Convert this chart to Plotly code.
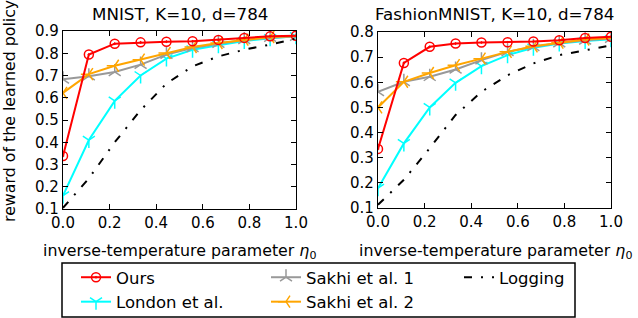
import plotly.graph_objects as go

eta = [0.0, 0.111, 0.222, 0.333, 0.444, 0.556, 0.667, 0.778, 0.889, 1.0]

mnist_ours = [0.338, 0.794, 0.843, 0.849, 0.852, 0.854, 0.860, 0.869, 0.876, 0.879]
mnist_london = [0.160, 0.410, 0.586, 0.700, 0.776, 0.816, 0.836, 0.855, 0.867, 0.876]
mnist_sakhi1 = [0.683, 0.697, 0.716, 0.749, 0.794, 0.824, 0.843, 0.860, 0.870, 0.875]
mnist_sakhi2 = [0.622, 0.706, 0.744, 0.771, 0.801, 0.828, 0.846, 0.861, 0.873, 0.878]
mnist_logging = [0.105, 0.238, 0.400, 0.544, 0.664, 0.741, 0.786, 0.816, 0.839, 0.866]

fashion_ours = [0.335, 0.677, 0.741, 0.754, 0.758, 0.759, 0.762, 0.767, 0.776, 0.781]
fashion_london = [0.179, 0.357, 0.500, 0.598, 0.664, 0.708, 0.737, 0.754, 0.764, 0.771]
fashion_sakhi1 = [0.562, 0.602, 0.622, 0.651, 0.688, 0.721, 0.741, 0.756, 0.767, 0.774]
fashion_sakhi2 = [0.500, 0.602, 0.637, 0.668, 0.694, 0.721, 0.743, 0.758, 0.770, 0.776]
fashion_logging = [0.113, 0.212, 0.338, 0.470, 0.562, 0.628, 0.675, 0.708, 0.727, 0.747]

titles = ["MNIST, K=10, d=784", "FashionMNIST, K=10, d=784"]
x_ticks = [0.0, 0.2, 0.4, 0.6, 0.8, 1.0]
y_ticks_left = [0.1, 0.2, 0.3, 0.4, 0.5, 0.6, 0.7, 0.8, 0.9]
y_ticks_right = [0.1, 0.2, 0.3, 0.4, 0.5, 0.6, 0.7, 0.8]

W, H = 638, 318
FONT = "DejaVu Sans"

styles = {
    "Ours": dict(color="#ff0000", symbol="circle-open-dot", size=9, legend="legend"),
    "London et al.": dict(color="#00ffff", symbol="y-down", size=10, legend="legend"),
    "Sakhi et al. 1": dict(color="#999999", symbol="y-up", size=10, legend="legend2"),
    "Sakhi et al. 2": dict(color="#ffa500", symbol="y-left", size=10, legend="legend2"),
}
ranks = {"Ours": 1, "London et al.": 2, "Sakhi et al. 1": 3, "Sakhi et al. 2": 4}

fig = go.Figure()

names = ["Ours", "London et al.", "Sakhi et al. 1", "Sakhi et al. 2"]
panels = [
    ("x", "y", dict(zip(names, [mnist_ours, mnist_london, mnist_sakhi1, mnist_sakhi2])), mnist_logging, True),
    ("x2", "y2", dict(zip(names, [fashion_ours, fashion_london, fashion_sakhi1, fashion_sakhi2])), fashion_logging, False),
]

for xa, ya, series, logging, show in panels:
    for name in ["London et al.", "Sakhi et al. 1", "Sakhi et al. 2", "Ours"]:
        st = styles[name]
        fig.add_trace(go.Scatter(
            x=eta, y=series[name], name=name, mode="lines+markers",
            xaxis=xa, yaxis=ya, showlegend=show, legend=st["legend"],
            legendrank=ranks[name],
            line=dict(color=st["color"], width=2),
            marker=dict(symbol=st["symbol"], size=st["size"], color=st["color"],
                        line=dict(color=st["color"], width=1.5)),
        ))
    fig.add_trace(go.Scatter(
        x=eta, y=logging, name="Logging", mode="lines", xaxis=xa, yaxis=ya,
        showlegend=show, legend="legend3", legendrank=5,
        line=dict(color="black", width=2, dash="8px,9px,2px,9px"),
    ))

def px_x(p):
    return p / W

def px_y(p):
    return 1 - p / H

axis_common = dict(
    showgrid=False, zeroline=False, showline=True, linecolor="black", linewidth=1.2,
    mirror="ticks", ticks="inside", ticklen=5, tickwidth=1, tickcolor="black",
    tickfont=dict(family=FONT, size=15, color="black"), automargin=False,
)

leg_common = dict(xanchor="left", yanchor="top", orientation="v", bgcolor="rgba(0,0,0,0)",
                  font=dict(family=FONT, size=16.5, color="black"), traceorder="normal",
                  tracegroupgap=0)

def ann(text, x, y, size, **kw):
    return dict(text=text, x=px_x(x), y=px_y(y), xref="paper", yref="paper",
                xanchor="center", yanchor="middle", showarrow=False,
                font=dict(family=FONT, size=size, color="black"), **kw)

fig.update_layout(
    width=W, height=H,
    margin=dict(l=0, r=0, t=0, b=0, autoexpand=False),
    paper_bgcolor="white", plot_bgcolor="white",
    font=dict(family=FONT, size=15, color="black"),
    xaxis=dict(domain=[px_x(63), px_x(296)], range=[0, 1], tickvals=x_ticks,
               ticktext=[f"{v:.1f}" for v in x_ticks], anchor="y", **axis_common),
    yaxis=dict(domain=[px_y(209), px_y(31)], range=[0.1, 0.9], tickvals=y_ticks_left,
               ticktext=[f"{v:.1f}" for v in y_ticks_left], anchor="x", **axis_common),
    xaxis2=dict(domain=[px_x(378), px_x(611)], range=[0, 1], tickvals=x_ticks,
                ticktext=[f"{v:.1f}" for v in x_ticks], anchor="y2", **axis_common),
    yaxis2=dict(domain=[px_y(208), px_y(32)], range=[0.1, 0.8], tickvals=y_ticks_right,
                ticktext=[f"{v:.1f}" for v in y_ticks_right], anchor="x2", **axis_common),
    legend=dict(x=px_x(76), y=px_y(260), **leg_common),
    legend2=dict(x=px_x(266), y=px_y(260), **leg_common),
    legend3=dict(x=px_x(459), y=px_y(260), **leg_common),
    shapes=[dict(type="rect", xref="paper", yref="paper",
                 x0=px_x(62), x1=px_x(575), y0=px_y(317), y1=px_y(263),
                 line=dict(color="black", width=1.5), fillcolor="rgba(0,0,0,0)")],
    annotations=[
        ann(titles[0], 179.5, 14, 16.7),
        ann(titles[1], 494.5, 14, 16.7),
        ann("inverse-temperature parameter <i>η</i><sub>0</sub>", 180, 251, 15.8),
        ann("inverse-temperature parameter <i>η</i><sub>0</sub>", 495, 251, 15.8),
        ann("reward of the learned policy", 9, 111, 15.8, textangle=-90),
    ],
)

fig.write_html("out.html", config={"displayModeBar": False},
               post_script="document.body.style.margin='0';document.body.style.overflow='hidden';")
